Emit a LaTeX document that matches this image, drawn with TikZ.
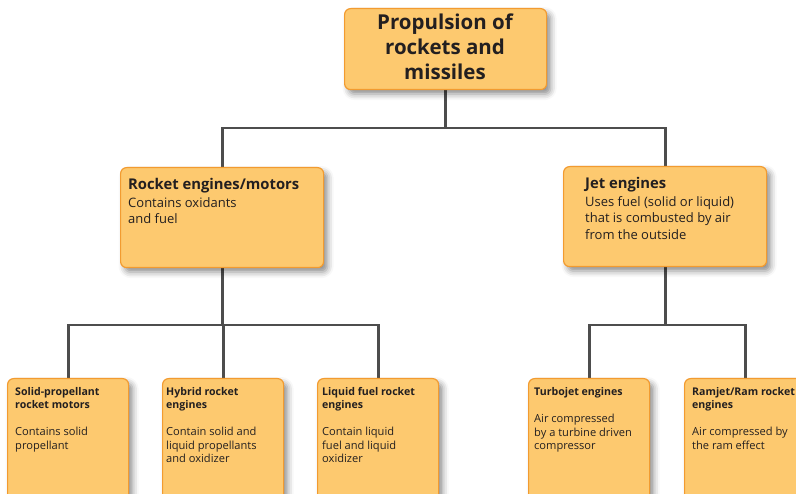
\documentclass[tikz,border=0pt]{standalone}
\usepackage{fontspec}
\setmainfont{Open Sans}
\usetikzlibrary{shadows.blur}
\pgfdeclarelayer{background}
\pgfsetlayers{background,main}
\definecolor{boxfill}{HTML}{FDC96F}
\definecolor{boxedge}{HTML}{F29B30}
\definecolor{wirecol}{HTML}{4D4D4D}
\definecolor{ink}{HTML}{231F20}
\tikzset{
  box/.style={draw=boxedge, line width=1.2pt, fill=boxfill, rounded corners=6pt,
    anchor=north west, inner sep=0pt,
    blur shadow={shadow xshift=4pt, shadow yshift=-4.5pt, shadow blur radius=6pt, shadow opacity=45}},
  smallbox/.style={box, minimum width=121pt, minimum height=130pt},
  bigbox/.style={box, minimum width=203pt, minimum height=100pt},
  wire/.style={draw=wirecol, line width=2.8pt},
  txt/.style={anchor=north west, inner sep=0pt, align=left, text=ink},
  toptitle/.style={txt, anchor=north, align=center, font=\bfseries\fontsize{20.5}{25}\selectfont},
  midtitle/.style={txt, font=\bfseries\fontsize{14.8}{17}\selectfont},
  midbody/.style={txt, font=\fontsize{13}{16.8}\selectfont},
  lowtitle/.style={txt, font=\bfseries\fontsize{10.6}{13.5}\selectfont},
  lowbody/.style={txt, font=\fontsize{11.1}{13.6}\selectfont},
}
\begin{document}
\begin{tikzpicture}[x=1pt,y=-1pt]
\useasboundingbox (0,0) rectangle (796,494);
% boxes
\node[box, minimum width=202pt, minimum height=81pt] (top) at (344,8) {};
\node[bigbox] (rocket) at (120,167) {};
\node[bigbox] (jet) at (563,166) {};
\node[smallbox] (s1) at (7,378) {};
\node[smallbox] (s2) at (162,378) {};
\node[smallbox] (s3) at (317,378) {};
\node[smallbox] (t1) at (528,378) {};
\node[smallbox] (t2) at (684,378) {};
% bus coordinates
\coordinate (bus1) at (0,128);
\coordinate (bus2) at (0,325);
% connectors
\begin{pgfonlayer}{background}
\draw[wire] (top.south) -- (top.south |- bus1);
\draw[wire] (rocket.north) -- (rocket.north |- bus1) -- (jet.north |- bus1) -- (jet.north);
\draw[wire] (rocket.south) -- (rocket.south |- bus2);
\draw[wire] (s1.north) -- (s1.north |- bus2) -- (s3.north |- bus2) -- (s3.north);
\draw[wire] (s2.north) -- (s2.north |- bus2);
\draw[wire] (jet.south) -- (jet.south |- bus2);
\draw[wire] (t1.north) -- (t1.north |- bus2) -- (t2.north |- bus2) -- (t2.north);
\end{pgfonlayer}
% texts
\node[toptitle] (topT) at (445,14) {Propulsion of\\rockets and\\missiles};
\node[midtitle] (rocketT) at (128,178) {Rocket engines/motors};
\node[midbody] (rocketB) at (128,197) {Contains oxidants\\and fuel};
\node[midtitle] (jetT) at (585,177) {Jet engines};
\node[midbody] (jetB) at (585,196) {Uses fuel (solid or liquid)\\that is combusted by air\\from the outside};
\node[lowtitle] (s1T) at (15,387) {Solid-propellant\\rocket motors};
\node[lowbody] (s1B) at (15,427) {Contains solid\\propellant};
\node[lowtitle] (s2T) at (166,387) {Hybrid rocket\\engines};
\node[lowbody] (s2B) at (166,427) {Contain solid and\\liquid propellants\\and oxidizer};
\node[lowtitle] (s3T) at (322,387) {Liquid fuel rocket\\engines};
\node[lowbody] (s3B) at (322,427) {Contain liquid\\fuel and liquid\\oxidizer};
\node[lowtitle] (t1T) at (534,387) {Turbojet engines};
\node[lowbody] (t1B) at (534,414) {Air compressed\\by a turbine driven\\compressor};
\node[lowtitle] (t2T) at (692,387) {Ramjet/Ram rocket\\engines};
\node[lowbody] (t2B) at (692,427) {Air compressed by\\the ram effect};
\end{tikzpicture}
\end{document}
